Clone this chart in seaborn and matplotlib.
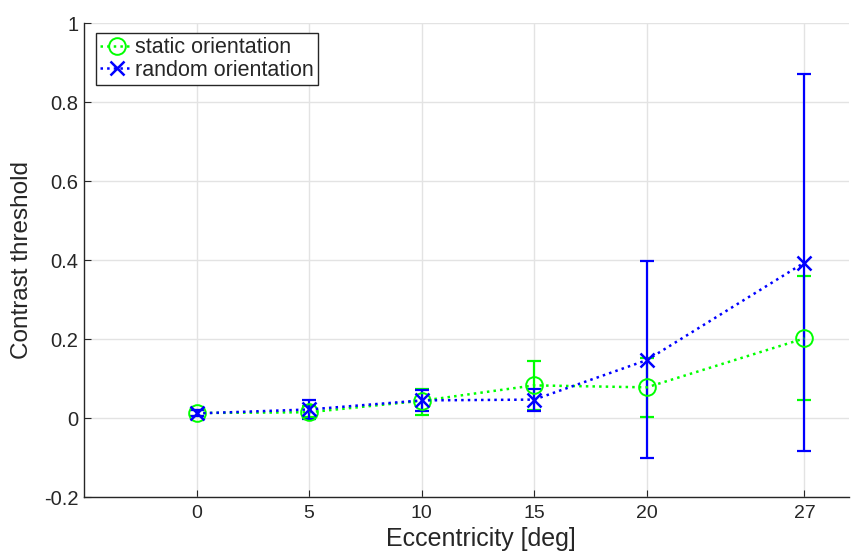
import matplotlib
matplotlib.use("Agg")
import matplotlib.pyplot as plt
import seaborn as sns
import numpy as np
import pandas as pd

ecc = [0, 5, 10, 15, 20, 27]
static_mean = [0.013, 0.015, 0.044, 0.083, 0.078, 0.202]
static_low = [0.006, 0.003, 0.007, 0.020, 0.003, 0.045]
static_high = [0.020, 0.030, 0.075, 0.144, 0.153, 0.360]
random_mean = [0.012, 0.022, 0.045, 0.047, 0.147, 0.394]
random_low = [0.005, -0.002, 0.018, 0.018, -0.101, -0.084]
random_high = [0.020, 0.045, 0.072, 0.073, 0.397, 0.871]
yticks = [-0.2, 0, 0.2, 0.4, 0.6, 0.8, 1]
ytick_labels = ["-0.2", "0", "0.2", "0.4", "0.6", "0.8", "1"]

sns.set_theme(style="whitegrid")
plt.rcParams['font.family'] = ['Liberation Sans', 'DejaVu Sans']

fig = plt.figure(figsize=(8.61, 5.53), dpi=100)
ax = fig.add_axes([0.0976, 0.101, 0.889, 0.857])

df = pd.DataFrame({
    "ecc": ecc * 2,
    "val": static_mean + random_mean,
    "cond": ["static orientation"] * 6 + ["random orientation"] * 6,
})

# error bars
for mean, lo, hi, c in [(static_mean, static_low, static_high, (0, 1, 0)),
                        (random_mean, random_low, random_high, (0, 0, 1))]:
    m = np.array(mean)
    yerr = np.vstack([m - np.array(lo), np.array(hi) - m])
    ax.errorbar(ecc, m, yerr=yerr, fmt="none", ecolor=c, elinewidth=1.6,
                capsize=5, capthick=1.6, zorder=3)

sns.lineplot(data=df[df.cond == "static orientation"], x="ecc", y="val",
             color=(0, 1, 0), linestyle=":", linewidth=1.8, marker="o",
             markersize=12, markerfacecolor="none", markeredgecolor=(0, 1, 0),
             markeredgewidth=1.4, ax=ax, label="static orientation", zorder=4)
sns.lineplot(data=df[df.cond == "random orientation"], x="ecc", y="val",
             color=(0, 0, 1), linestyle=":", linewidth=1.8, marker="x",
             markersize=10, markeredgecolor=(0, 0, 1), markeredgewidth=1.8,
             ax=ax, label="random orientation", zorder=5)

ax.set_xlim(-5, 29)
ax.set_ylim(-0.2, 1)
ax.set_xticks(ecc)
ax.set_xticklabels([str(e) for e in ecc], fontsize=14)
ax.set_yticks(yticks)
ax.set_yticklabels(ytick_labels, fontsize=14.5)
ax.set_xlabel("Eccentricity [deg]", fontsize=18, labelpad=0)
ax.set_ylabel("Contrast threshold", fontsize=17.5, labelpad=8)
ax.xaxis.set_label_coords(0.518, -0.064)

ax.grid(True, color="#e3e3e3", linewidth=1)
ax.set_facecolor("white")
for s in ["top", "right"]:
    ax.spines[s].set_visible(False)
for s in ["left", "bottom"]:
    ax.spines[s].set_visible(True)
    ax.spines[s].set_color("#262626")
    ax.spines[s].set_linewidth(1)
ax.tick_params(axis="both", direction="in", length=5, width=0.8,
               color="#262626", labelcolor="#262626",
               left=True, bottom=True)
ax.tick_params(axis="y", pad=4)
ax.tick_params(axis="x", pad=6)

leg = ax.legend(loc="upper left", bbox_to_anchor=(0.0157, 0.979), fontsize=15.5,
                frameon=True, fancybox=False, edgecolor="#262626",
                handlelength=1.5, handletextpad=0.1, borderpad=0.2,
                labelspacing=0.05, borderaxespad=0)
leg.get_frame().set_linewidth(1)
leg.get_frame().set_facecolor("white")
leg.get_frame().set_alpha(1)

fig.savefig("out.png", dpi=100)
